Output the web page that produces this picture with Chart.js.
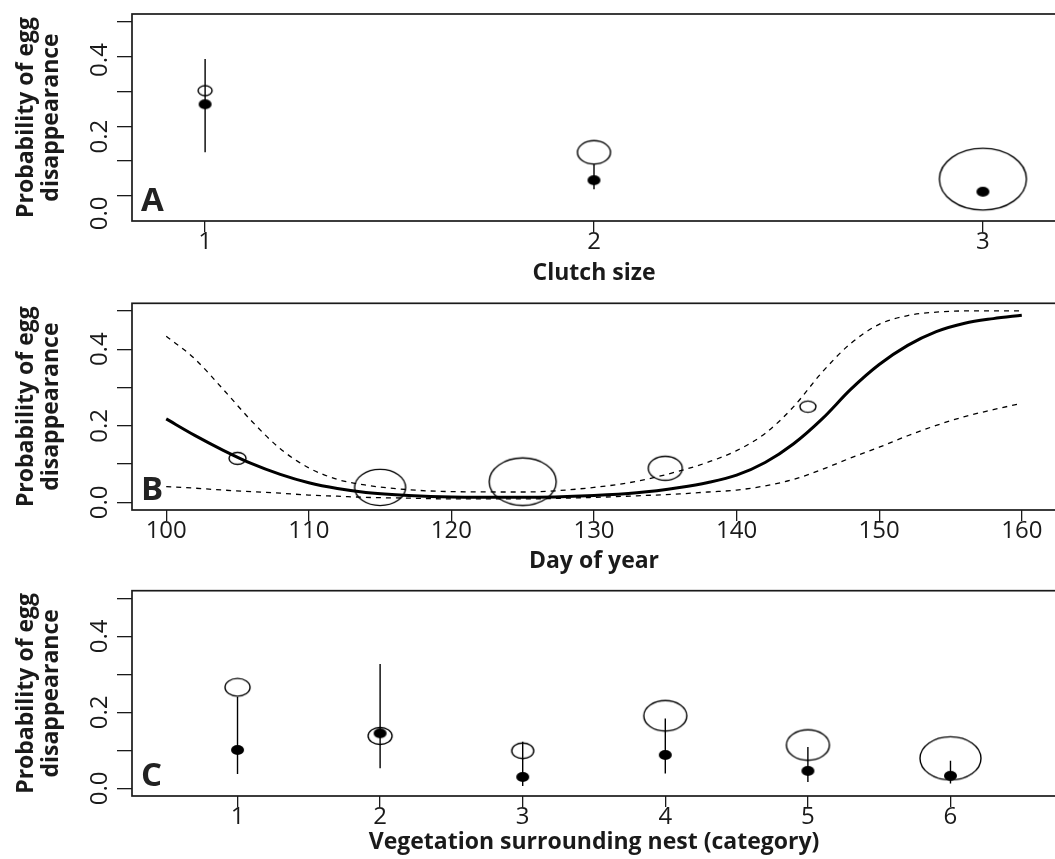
<!DOCTYPE html>
<html>
<head>
<meta charset="utf-8">
<script src="https://cdn.jsdelivr.net/npm/chart.js@4.4.1/dist/chart.umd.min.js"></script>
<style>
  html, body { margin: 0; padding: 0; background: #fff; overflow: hidden; width: 1055px; height: 859px; }
  canvas { position: absolute; left: 0; }
</style>
</head>
<body>
<canvas id="chartA" width="1062" height="290" style="top:0px"></canvas>
<canvas id="chartB" width="1062" height="288" style="top:290px"></canvas>
<canvas id="chartC" width="1062" height="281" style="top:578px"></canvas>
<script>
// --- panel A : clutch size
const clutchSizes = [1, 2, 3];
const clutchObserved = [0.302, 0.125, 0.048];
const clutchPredicted = [0.263, 0.045, 0.012];
const clutchLower = [0.125, 0.019, 0.007];
const clutchUpper = [0.393, 0.091, 0.017];

// --- panel B : day of year
const dayTicks = [100, 110, 120, 130, 140, 150, 160];
const dayObsDays = [105, 115, 125, 135, 145];
const dayObserved = [0.115, 0.039, 0.054, 0.089, 0.250];
const fitDays = [100, 102, 104, 106, 108, 110, 112, 114, 117, 120, 125, 130, 133, 136, 138, 140, 142, 144, 146, 148, 150, 152, 154, 156, 158, 160];
const fitMean = [0.218, 0.175, 0.136, 0.101, 0.073, 0.051, 0.036, 0.026, 0.018, 0.014, 0.013, 0.018, 0.025, 0.039, 0.052, 0.071, 0.104, 0.153, 0.218, 0.295, 0.360, 0.410, 0.446, 0.468, 0.480, 0.489];
const fitUpper = [0.434, 0.375, 0.295, 0.212, 0.140, 0.090, 0.060, 0.045, 0.033, 0.028, 0.027, 0.039, 0.055, 0.082, 0.105, 0.135, 0.180, 0.250, 0.340, 0.415, 0.465, 0.488, 0.497, 0.500, 0.500, 0.500];
const fitLower = [0.041, 0.037, 0.032, 0.028, 0.024, 0.019, 0.016, 0.013, 0.011, 0.009, 0.009, 0.013, 0.017, 0.022, 0.027, 0.032, 0.043, 0.060, 0.086, 0.116, 0.144, 0.174, 0.201, 0.224, 0.242, 0.259];

// --- panel C : vegetation category
const vegCategories = [1, 2, 3, 4, 5, 6];
const vegObserved = [0.266, 0.138, 0.099, 0.191, 0.114, 0.079];
const vegPredicted = [0.101, 0.145, 0.030, 0.088, 0.046, 0.033];
const vegLower = [0.038, 0.053, 0.006, 0.039, 0.017, 0.013];
const vegUpper = [0.241, 0.327, 0.123, 0.184, 0.109, 0.073];

const yTickValues = [0, 0.1, 0.2, 0.3, 0.4, 0.5];
const yLabelValues = [0, 0.2, 0.4];

// marker sizes (px), open rings are scaled by sample size in the original
const ringWidthA = [14, 33, 87];
const ringWidthB = [17, 51, 67, 34, 16];
const ringWidthC = [25, 24, 22, 43, 43, 61];
const ringAspect = 1.41;
const INK = '#1a1a1a';
const FONT = '"Open Sans", "DejaVu Sans", sans-serif';

function ellipseMark(w, h, filled) {
  const c = document.createElement('canvas');
  c.width = Math.ceil(w) + 4;
  c.height = Math.ceil(h) + 4;
  const g = c.getContext('2d');
  g.beginPath();
  g.ellipse(c.width / 2, c.height / 2, w / 2, h / 2, 0, 0, Math.PI * 2);
  if (filled) {
    g.fillStyle = '#000';
    g.fill();
  } else {
    g.strokeStyle = '#000';
    g.lineWidth = 1.4;
    g.stroke();
  }
  return c;
}
const dot = ellipseMark(13, 10, true);

function pts(xs, ys) {
  return xs.map((x, i) => ({ x: x, y: ys[i] }));
}

function whiskers(xs, lo, hi) {
  const out = [];
  xs.forEach((x, i) => {
    out.push({ x: x, y: lo[i] }, { x: x, y: hi[i] }, { x: x, y: null });
  });
  return out;
}

const panelFrame = {
  id: 'panelFrame',
  afterDraw(chart, args, opts) {
    const { ctx, chartArea: a } = chart;
    const yl = chart.scales.yl;
    ctx.save();
    ctx.strokeStyle = INK;
    ctx.lineWidth = 1.7;
    ctx.strokeRect(a.left, a.top, a.right - a.left, a.bottom - a.top);

    ctx.fillStyle = INK;
    ctx.font = '24px ' + FONT;
    ctx.textAlign = 'center';
    ctx.textBaseline = 'alphabetic';
    yLabelValues.forEach(v => {
      ctx.save();
      ctx.translate(a.left - 25, yl.getPixelForValue(v));
      ctx.rotate(-Math.PI / 2);
      ctx.fillText(v.toFixed(1), 0, 0);
      ctx.restore();
    });

    ctx.font = 'bold 33px ' + FONT;
    ctx.textAlign = 'left';
    ctx.fillStyle = '#222';
    ctx.fillText(opts.letter, a.left + 9, a.bottom - 10);
    ctx.restore();
  }
};

function panelOptions(cfg) {
  return {
    responsive: false,
    animation: false,
    events: [],
    layout: { padding: { top: cfg.padTop, right: 1, left: 0, bottom: 0 } },
    plugins: {
      legend: { display: false },
      tooltip: { enabled: false },
      panelFrame: { letter: cfg.letter }
    },
    scales: {
      x: {
        type: 'linear',
        min: cfg.xMin,
        max: cfg.xMax,
        afterBuildTicks: s => { s.ticks = cfg.xTicks.map(v => ({ value: v })); },
        afterFit: s => { s.height = cfg.xHeight; },
        border: { display: false },
        grid: { drawOnChartArea: false, drawTicks: true, tickLength: 11, color: INK, lineWidth: 1.3 },
        ticks: { color: INK, font: { family: FONT, size: 24, lineHeight: 1.2 }, padding: -4, maxRotation: 0 },
        title: {
          display: true,
          text: cfg.xTitle,
          color: INK,
          font: { family: FONT, size: 23, weight: 'bold', lineHeight: 1.1 },
          padding: { top: 0, bottom: 4 }
        }
      },
      y: {
        type: 'linear',
        min: cfg.yMin,
        max: cfg.yMax,
        afterBuildTicks: s => { s.ticks = yTickValues.map(v => ({ value: v })); },
        afterFit: s => { s.width = 132; },
        border: { display: false },
        grid: { drawOnChartArea: false, drawTicks: true, tickLength: 15, color: INK, lineWidth: 1.3 },
        ticks: { display: false },
        title: {
          display: true,
          text: ['Probability of egg', 'disappearance'],
          color: INK,
          font: { family: FONT, size: 23, weight: 'bold', lineHeight: 1.1 },
          padding: { top: 14, bottom: 0 }
        }
      },
      yl: { display: false, min: -0.02, max: 0.52 }
    }
  };
}

new Chart(document.getElementById('chartA').getContext('2d'), {
  type: 'scatter',
  data: {
    datasets: [
      {
        data: pts(clutchSizes, clutchPredicted),
        pointStyle: dot,
        pointRadius: 5
      },
      {
        data: pts(clutchSizes, clutchObserved),
        pointStyle: ringWidthA.map(w => ellipseMark(w, w / ringAspect, false)),
        pointRadius: 5
      },
      {
        data: whiskers(clutchSizes, clutchLower, clutchUpper),
        showLine: true,
        spanGaps: false,
        borderColor: '#000',
        borderWidth: 1.4,
        pointRadius: 0
      }
    ]
  },
  options: panelOptions({
    letter: 'A', padTop: 14, xHeight: 69,
    xMin: 0.812, xMax: 3.188, xTicks: clutchSizes, xTitle: 'Clutch size',
    yMin: -0.072, yMax: 0.522
  }),
  plugins: [panelFrame]
});

new Chart(document.getElementById('chartB').getContext('2d'), {
  type: 'scatter',
  data: {
    datasets: [
      {
        data: pts(fitDays, fitMean),
        showLine: true,
        borderColor: '#000',
        borderWidth: 3,
        pointRadius: 0,
        cubicInterpolationMode: 'monotone'
      },
      {
        data: pts(fitDays, fitUpper),
        showLine: true,
        borderColor: '#000',
        borderWidth: 1.3,
        borderDash: [5, 5],
        pointRadius: 0,
        cubicInterpolationMode: 'monotone'
      },
      {
        data: pts(fitDays, fitLower),
        showLine: true,
        borderColor: '#000',
        borderWidth: 1.3,
        borderDash: [5, 5],
        pointRadius: 0,
        cubicInterpolationMode: 'monotone'
      },
      {
        data: pts(dayObsDays, dayObserved),
        pointStyle: ringWidthB.map(w => ellipseMark(w, w / ringAspect, false)),
        pointRadius: 5
      }
    ]
  },
  options: panelOptions({
    letter: 'B', padTop: 13.3, xHeight: 68,
    xMin: 97.6, xMax: 162.4, xTicks: dayTicks, xTitle: 'Day of year',
    yMin: -0.02, yMax: 0.52
  }),
  plugins: [panelFrame]
});

new Chart(document.getElementById('chartC').getContext('2d'), {
  type: 'scatter',
  data: {
    datasets: [
      {
        data: pts(vegCategories, vegPredicted),
        pointStyle: dot,
        pointRadius: 5
      },
      {
        data: pts(vegCategories, vegObserved),
        pointStyle: ringWidthC.map(w => ellipseMark(w, w / ringAspect, false)),
        pointRadius: 5
      },
      {
        data: whiskers(vegCategories, vegLower, vegUpper),
        showLine: true,
        spanGaps: false,
        borderColor: '#000',
        borderWidth: 1.4,
        pointRadius: 0
      }
    ]
  },
  options: panelOptions({
    letter: 'C', padTop: 12.7, xHeight: 63,
    xMin: 0.26, xMax: 6.74, xTicks: vegCategories, xTitle: 'Vegetation surrounding nest (category)',
    yMin: -0.02, yMax: 0.52
  }),
  plugins: [panelFrame]
});
</script>
</body>
</html>
